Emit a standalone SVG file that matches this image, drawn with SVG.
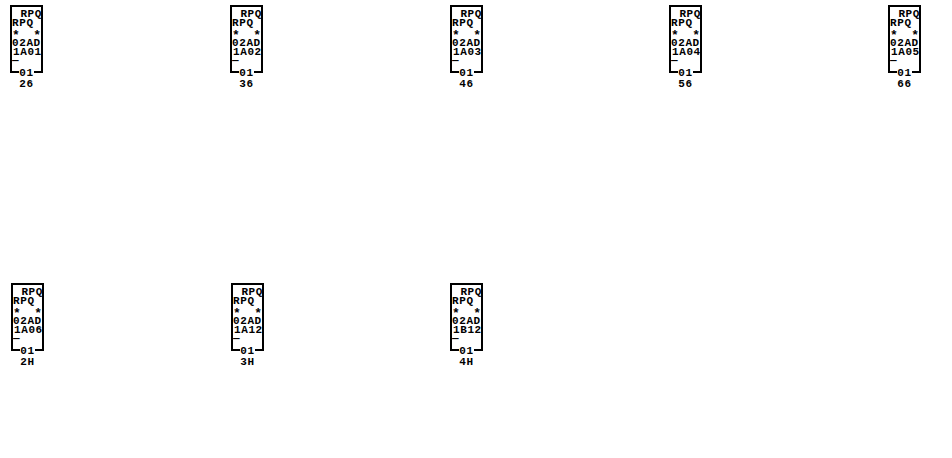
<svg xmlns="http://www.w3.org/2000/svg" width="952" height="458" viewBox="0 0 952 458">
<style>
  .t { font-family: "Liberation Mono", "DejaVu Sans Mono", monospace; font-size: 11px; font-weight: bold; fill: #000; letter-spacing: 0.6px; }
  .s { font-size: 13px; letter-spacing: 0; }
  .e { text-anchor: end; }
  .m { text-anchor: middle; }
  .f { fill: none; stroke: #000; stroke-width: 2; }
</style>
<defs>
  <path id="frame" class="f" d="M8,66 H0 V0 H31 V66 H23"/>
</defs>
<rect width="952" height="458" fill="#fff"/>
<g id="connectors"></g>

<g id="node-26" transform="translate(11,6)">
  <use href="#frame"/>
  <text class="t e" x="31" y="11">RPQ</text>
  <text class="t" x="1" y="20">RPQ</text>
  <text class="t s" x="1" y="33">*</text><text class="t s e" x="30" y="33">*</text>
  <text class="t" x="1" y="40">02AD</text>
  <text class="t" x="2" y="49">1A01</text>
  <text class="t" x="1" y="57">—</text>
  <text class="t m" x="15.5" y="70">01</text>
  <text class="t m" x="15.5" y="81">26</text>
</g>

<g id="node-36" transform="translate(231,6)">
  <use href="#frame"/>
  <text class="t e" x="31" y="11">RPQ</text>
  <text class="t" x="1" y="20">RPQ</text>
  <text class="t s" x="1" y="33">*</text><text class="t s e" x="30" y="33">*</text>
  <text class="t" x="1" y="40">02AD</text>
  <text class="t" x="2" y="49">1A02</text>
  <text class="t" x="1" y="57">—</text>
  <text class="t m" x="15.5" y="70">01</text>
  <text class="t m" x="15.5" y="81">36</text>
</g>

<g id="node-46" transform="translate(451,6)">
  <use href="#frame"/>
  <text class="t e" x="31" y="11">RPQ</text>
  <text class="t" x="1" y="20">RPQ</text>
  <text class="t s" x="1" y="33">*</text><text class="t s e" x="30" y="33">*</text>
  <text class="t" x="1" y="40">02AD</text>
  <text class="t" x="2" y="49">1A03</text>
  <text class="t" x="1" y="57">—</text>
  <text class="t m" x="15.5" y="70">01</text>
  <text class="t m" x="15.5" y="81">46</text>
</g>

<g id="node-56" transform="translate(670,6)">
  <use href="#frame"/>
  <text class="t e" x="31" y="11">RPQ</text>
  <text class="t" x="1" y="20">RPQ</text>
  <text class="t s" x="1" y="33">*</text><text class="t s e" x="30" y="33">*</text>
  <text class="t" x="1" y="40">02AD</text>
  <text class="t" x="2" y="49">1A04</text>
  <text class="t" x="1" y="57">—</text>
  <text class="t m" x="15.5" y="70">01</text>
  <text class="t m" x="15.5" y="81">56</text>
</g>

<g id="node-66" transform="translate(889,6)">
  <use href="#frame"/>
  <text class="t e" x="31" y="11">RPQ</text>
  <text class="t" x="1" y="20">RPQ</text>
  <text class="t s" x="1" y="33">*</text><text class="t s e" x="30" y="33">*</text>
  <text class="t" x="1" y="40">02AD</text>
  <text class="t" x="2" y="49">1A05</text>
  <text class="t" x="1" y="57">—</text>
  <text class="t m" x="15.5" y="70">01</text>
  <text class="t m" x="15.5" y="81">66</text>
</g>

<g id="node-2H" transform="translate(12,284)">
  <use href="#frame"/>
  <text class="t e" x="31" y="11">RPQ</text>
  <text class="t" x="1" y="20">RPQ</text>
  <text class="t s" x="1" y="33">*</text><text class="t s e" x="30" y="33">*</text>
  <text class="t" x="1" y="40">02AD</text>
  <text class="t" x="2" y="49">1A06</text>
  <text class="t" x="1" y="57">—</text>
  <text class="t m" x="15.5" y="70">01</text>
  <text class="t m" x="15.5" y="81">2H</text>
</g>

<g id="node-3H" transform="translate(232,284)">
  <use href="#frame"/>
  <text class="t e" x="31" y="11">RPQ</text>
  <text class="t" x="1" y="20">RPQ</text>
  <text class="t s" x="1" y="33">*</text><text class="t s e" x="30" y="33">*</text>
  <text class="t" x="1" y="40">02AD</text>
  <text class="t" x="2" y="49">1A12</text>
  <text class="t" x="1" y="57">—</text>
  <text class="t m" x="15.5" y="70">01</text>
  <text class="t m" x="15.5" y="81">3H</text>
</g>

<g id="node-4H" transform="translate(451,284)">
  <use href="#frame"/>
  <text class="t e" x="31" y="11">RPQ</text>
  <text class="t" x="1" y="20">RPQ</text>
  <text class="t s" x="1" y="33">*</text><text class="t s e" x="30" y="33">*</text>
  <text class="t" x="1" y="40">02AD</text>
  <text class="t" x="2" y="49">1B12</text>
  <text class="t" x="1" y="57">—</text>
  <text class="t m" x="15.5" y="70">01</text>
  <text class="t m" x="15.5" y="81">4H</text>
</g>
</svg>
